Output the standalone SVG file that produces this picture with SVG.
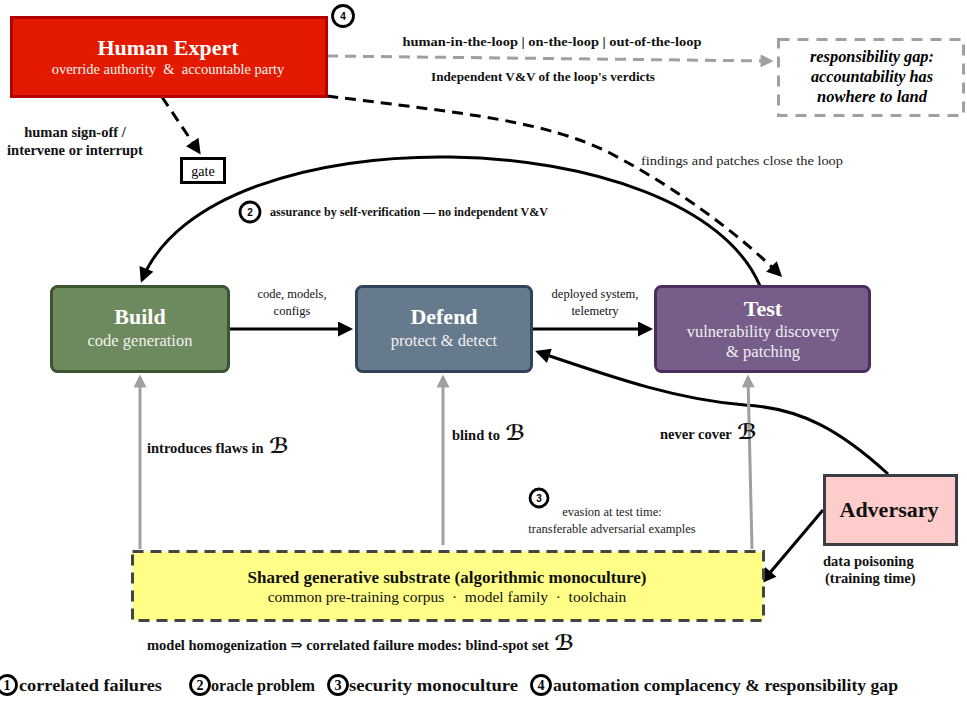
<svg xmlns="http://www.w3.org/2000/svg" width="967" height="704" viewBox="0 0 967 704">
<style>
text{font-family:"Liberation Serif","DejaVu Serif",serif;}
.t1{font-size:22px;font-weight:bold;fill:#fff;text-anchor:middle;}
.t2{font-size:16.5px;fill:#f0f0f0;text-anchor:middle;}
.lab{font-weight:bold;fill:#111;}
.sm{font-size:12.5px;fill:#111;}
.mid{text-anchor:middle;}
.sc{font-family:"DejaVu Serif","DejaVu Sans",serif;font-style:italic;font-weight:bold;font-size:21px;}
.blk{fill:none;stroke:#000;stroke-width:3;}
.dash{stroke-dasharray:11 7;}
.grey{fill:none;stroke:#a0a0a0;stroke-width:3;}
.circ{fill:#fff;stroke:#000;stroke-width:2.8;}
.num{font-family:"Liberation Sans","DejaVu Sans",sans-serif;font-size:10px;font-weight:bold;text-anchor:middle;}
.leg{font-size:17px;font-weight:bold;fill:#111;}
.lnum{font-size:14px;font-weight:bold;text-anchor:middle;}
</style>
<defs>
<marker id="ah" viewBox="0 0 10 10" refX="8" refY="5" markerWidth="17" markerHeight="15" markerUnits="userSpaceOnUse" orient="auto"><path d="M0,0 L10,5 L0,10 z" fill="#000"/></marker>
<marker id="ahg" viewBox="0 0 10 10" refX="8" refY="5" markerWidth="15" markerHeight="13" markerUnits="userSpaceOnUse" orient="auto"><path d="M0,0 L10,5 L0,10 z" fill="#a0a0a0"/></marker>
</defs>

<g id="connectors">
  <path class="grey dash" d="M327,56 L771,61" stroke-dasharray="12 8" marker-end="url(#ahg)"/>
  <path class="blk dash" d="M327,96 C470,114 545,121 610,153 C680,190 740,235 780,275" marker-end="url(#ah)"/>
  <path class="blk dash" d="M162,97 L199,152" marker-end="url(#ah)"/>
  <path class="blk" d="M760,286 C690,120 210,110 142,280" marker-end="url(#ah)"/>
  <path class="blk" d="M229,329 L350,329" marker-end="url(#ah)"/>
  <path class="blk" d="M532,329 L650,329" marker-end="url(#ah)"/>
  <path class="blk" d="M888,474 C840,430 800,408 745,405 C680,400 620,380 538,352" marker-end="url(#ah)"/>
  <path class="blk" d="M823,510 L763,581" marker-end="url(#ah)"/>
  <path class="grey" d="M140,549 L140,377" marker-end="url(#ahg)"/>
  <path class="grey" d="M443,545 L443,377" marker-end="url(#ahg)"/>
  <path class="grey" d="M752,549 L748,377" marker-end="url(#ahg)"/>
</g>

<g id="node-human">
  <rect x="11.5" y="17.5" width="315" height="79" fill="#e41a00" stroke="#b30000" stroke-width="3"/>
  <text class="t1" x="168" y="55">Human Expert</text>
  <text x="168" y="74" font-size="14.5" fill="#f4f4f4" text-anchor="middle" style="white-space:pre">override authority  &amp;  accountable party</text>
</g>

<g id="badge-4">
  <circle class="circ" cx="343" cy="16" r="10.5"/>
  <text class="num" x="343" y="19.5">4</text>
</g>

<g id="node-gate">
  <rect x="181.5" y="158.5" width="43" height="24" fill="#fff" stroke="#000" stroke-width="3"/>
  <text x="203" y="176" font-size="14" text-anchor="middle">gate</text>
</g>

<g id="node-resp">
  <rect x="778.5" y="39.5" width="185" height="76" fill="#fff" stroke="#a0a0a0" stroke-width="3" stroke-dasharray="11 8"/>
  <text x="872" y="62" font-size="16" font-style="italic" font-weight="bold" text-anchor="middle" textLength="124" lengthAdjust="spacingAndGlyphs">responsibility gap:</text>
  <text x="872" y="82" font-size="16" font-style="italic" font-weight="bold" text-anchor="middle" textLength="122" lengthAdjust="spacingAndGlyphs">accountability has</text>
  <text x="872" y="102" font-size="16" font-style="italic" font-weight="bold" text-anchor="middle" textLength="110" lengthAdjust="spacingAndGlyphs">nowhere to land</text>
</g>

<g id="node-build">
  <rect x="51.5" y="286.5" width="177" height="85" rx="6" fill="#6d8a5e" stroke="#3c5530" stroke-width="3"/>
  <text class="t1" x="140" y="324">Build</text>
  <text class="t2" x="140" y="346">code generation</text>
</g>

<g id="node-defend">
  <rect x="356.5" y="286.5" width="175" height="85" rx="6" fill="#667a8e" stroke="#2f4257" stroke-width="3"/>
  <text class="t1" x="444" y="324">Defend</text>
  <text class="t2" x="444" y="346">protect &amp; detect</text>
</g>

<g id="node-test">
  <rect x="655.5" y="286.5" width="214" height="85" rx="6" fill="#775e8a" stroke="#4a2e5e" stroke-width="3"/>
  <text class="t1" x="763" y="316">Test</text>
  <text class="t2" x="763" y="337">vulnerability discovery</text>
  <text class="t2" x="763" y="357">&amp; patching</text>
</g>

<g id="node-adversary">
  <rect x="824.5" y="475.5" width="132" height="69" fill="#ffcccc" stroke="#3b3e42" stroke-width="3"/>
  <text x="889" y="517" font-size="22" font-weight="bold" text-anchor="middle" fill="#111">Adversary</text>
</g>

<g id="node-substrate">
  <rect x="132.5" y="551.5" width="631" height="69" fill="#ffff88" stroke="#444" stroke-width="3" stroke-dasharray="11 7"/>
  <text x="447" y="583" font-size="17" font-weight="bold" text-anchor="middle" fill="#111">Shared generative substrate (algorithmic monoculture)</text>
  <text x="447" y="602" font-size="15.5" text-anchor="middle" fill="#111" style="white-space:pre">common pre-training corpus  ·  model family  ·  toolchain</text>
</g>

<g id="labels">
  <text class="lab mid" x="552" y="46" font-size="13.5" textLength="299" lengthAdjust="spacingAndGlyphs">human-in-the-loop | on-the-loop | out-of-the-loop</text>
  <text class="lab mid" x="543" y="81" font-size="12.5" textLength="224" lengthAdjust="spacingAndGlyphs">Independent V&amp;V of the loop's verdicts</text>
  <text x="641" y="165" font-size="13.5" fill="#222" textLength="202" lengthAdjust="spacingAndGlyphs">findings and patches close the loop</text>
  <text class="lab mid" x="75" y="137" font-size="14.5">human sign-off /</text>
  <text class="lab mid" x="75" y="155" font-size="14.5">intervene or interrupt</text>

  <circle class="circ" cx="250" cy="212" r="10"/>
  <text class="num" x="250" y="215.5">2</text>
  <text class="lab" x="270" y="216" font-size="11.5" textLength="278" lengthAdjust="spacingAndGlyphs">assurance by self-verification — no independent V&amp;V</text>

  <text class="sm mid" x="292" y="298">code, models,</text>
  <text class="sm mid" x="292" y="315">configs</text>
  <text class="sm mid" x="595" y="298">deployed system,</text>
  <text class="sm mid" x="595" y="315">telemetry</text>

  <text class="lab" x="147" y="453" font-size="14.5">introduces flaws in <tspan class="sc" dx="2">ℬ</tspan></text>
  <text class="lab" x="452" y="440" font-size="14.5">blind to <tspan class="sc" dx="2">ℬ</tspan></text>
  <text class="lab" x="660" y="439" font-size="14.5">never cover <tspan class="sc" dx="2">ℬ</tspan></text>

  <circle class="circ" cx="539" cy="498" r="9"/>
  <text class="num" x="539" y="501.5">3</text>
  <text class="mid" x="612" y="516" font-size="12.5" fill="#222">evasion at test time:</text>
  <text class="mid" x="612" y="533" font-size="12.5" fill="#222">transferable adversarial examples</text>

  <text class="lab" x="823" y="566" font-size="14.5">data poisoning</text>
  <text class="lab" x="825" y="583" font-size="14.5">(training time)</text>

  <text class="lab" x="147" y="650" font-size="14.5">model homogenization ⇒ correlated failure modes: blind-spot set <tspan class="sc" dx="2">ℬ</tspan></text>
</g>

<g id="legend">
  <circle class="circ" cx="7" cy="685" r="9.5"/>
  <text class="lnum" x="7" y="690">1</text>
  <text class="leg" x="19" y="691" textLength="143" lengthAdjust="spacingAndGlyphs">correlated failures</text>
  <circle class="circ" cx="200" cy="685" r="9.5"/>
  <text class="lnum" x="200" y="690">2</text>
  <text class="leg" x="211" y="691" textLength="104" lengthAdjust="spacingAndGlyphs">oracle problem</text>
  <circle class="circ" cx="338" cy="685" r="9.5"/>
  <text class="lnum" x="338" y="690">3</text>
  <text class="leg" x="349" y="691" textLength="169" lengthAdjust="spacingAndGlyphs">security monoculture</text>
  <circle class="circ" cx="541" cy="685" r="9.5"/>
  <text class="lnum" x="541" y="690">4</text>
  <text class="leg" x="553" y="691" textLength="345" lengthAdjust="spacingAndGlyphs">automation complacency &amp; responsibility gap</text>
</g>
</svg>
